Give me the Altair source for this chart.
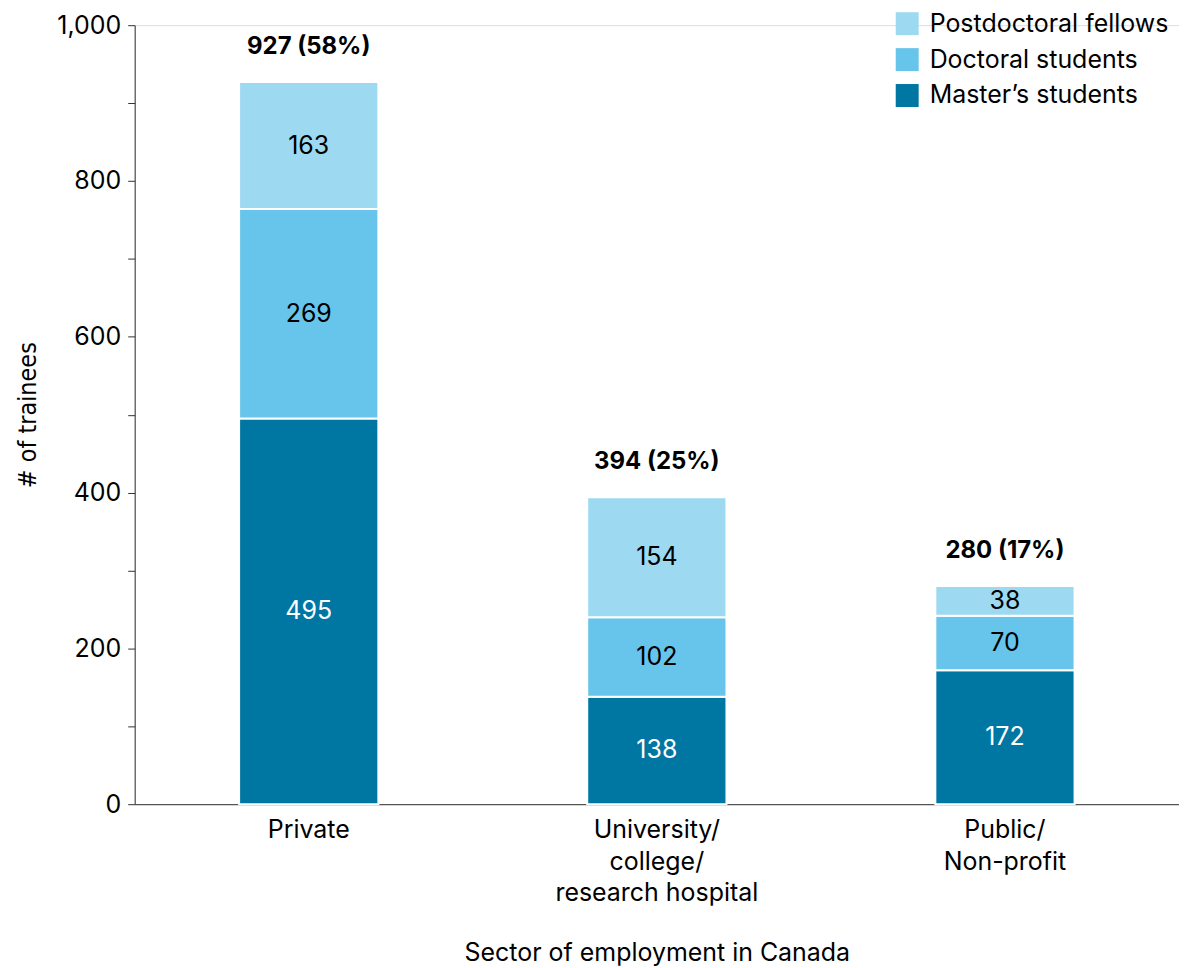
import altair as alt
import pandas as pd

sectors = ["Private", "University/\ncollege/\nresearch hospital", "Public/\nNon-profit"]
types = ["Postdoctoral fellows", "Doctoral students", "Master\u2019s students"]
colors = ["#9dd9f1", "#67c4ea", "#0076a3"]
masters = [495, 138, 172]
doctoral = [269, 102, 70]
postdoc = [163, 154, 38]
totals = [927, 394, 280]
pct_labels = ["927 (58%)", "394 (25%)", "280 (17%)"]

rows = []
for i, s in enumerate(sectors):
    rows.append({"sector": s, "type": types[2], "ord": 0, "value": masters[i]})
    rows.append({"sector": s, "type": types[1], "ord": 1, "value": doctoral[i]})
    rows.append({"sector": s, "type": types[0], "ord": 2, "value": postdoc[i]})
df = pd.DataFrame(rows)
tot = pd.DataFrame({"sector": sectors, "total": totals, "label": pct_labels})

FONT = "Inter"

x_enc = alt.X(
    "sector:N",
    sort=sectors,
    scale=alt.Scale(paddingInner=0.6, paddingOuter=0.3),
    axis=alt.Axis(
        title="Sector of employment in Canada",
        labelAngle=0,
        labelExpr="split(datum.value, '\\n')",
        labelFontSize=25,
        labelLineHeight=32,
        labelPadding=13,
        labelLimit=0,
        labelColor="#000",
        labelFont=FONT,
        ticks=False,
        domainColor="#333",
        titleFontSize=25,
        titleFont=FONT,
        titleFontWeight="normal",
        titleColor="#000",
        titlePadding=35,
    ),
)

y_scale = alt.Scale(domain=[0, 1000], nice=False)

base = alt.Chart(df)

bars = base.mark_bar(stroke="white", strokeWidth=2).encode(
    x=x_enc,
    y=alt.Y(
        "value:Q",
        stack="zero",
        scale=y_scale,
        axis=alt.Axis(
            title="# of trainees",
            values=list(range(0, 1001, 100)),
            labelExpr="datum.value % 200 == 0 ? format(datum.value, ',') : ''",
            grid=False,
            tickSize=7,
            tickColor="#333",
            domainColor="#333",
            labelFontSize=25,
            labelFont=FONT,
            labelColor="#000",
            labelPadding=7,
            titleFont="DejaVu Sans Condensed",
            titleFontSize=25,
            titleFontWeight="normal",
            titleColor="#000",
            titlePadding=16,
        ),
    ),
    color=alt.Color(
        "type:N",
        scale=alt.Scale(domain=types, range=colors),
        legend=alt.Legend(
            title=None,
            orient="none",
            legendX=762,
            legendY=-14,
            symbolType="square",
            symbolSize=529,
            symbolStrokeWidth=0,
            labelFontSize=25,
            labelFont=FONT,
            labelColor="#000",
            labelLimit=0,
            rowPadding=10,
            labelOffset=10,
        ),
    ),
    order=alt.Order("ord:Q", sort="ascending"),
)

seg_text = (
    base.transform_stack(
        stack="value", groupby=["sector"], sort=[alt.SortField("ord", order="ascending")], as_=["y0", "y1"]
    )
    .transform_calculate(mid="(datum.y0 + datum.y1) / 2")
    .mark_text(fontSize=25, font=FONT, baseline="middle")
    .encode(
        x=alt.X("sector:N", sort=sectors),
        y=alt.Y("mid:Q", scale=y_scale),
        text=alt.Text("value:Q"),
        color=alt.condition("datum.ord == 0", alt.value("white"), alt.value("black")),
    )
)

tot_text = (
    alt.Chart(tot)
    .mark_text(fontSize=24, font=FONT, fontWeight="bold", baseline="middle", dy=-35)
    .encode(
        x=alt.X("sector:N", sort=sectors),
        y=alt.Y("total:Q", scale=y_scale),
        text="label:N",
    )
)

chart = (
    alt.layer(bars, seg_text, tot_text)
    .properties(
        width=1047,
        height=781,
        autosize=alt.AutoSizeParams(type="none"),
        padding={"left": 127, "top": 16, "right": 0, "bottom": 163},
    )
    .configure_view(stroke=None)
    .configure(background="white")
)

chart.save("out.html", embed_options={"renderer": "svg", "actions": False})
